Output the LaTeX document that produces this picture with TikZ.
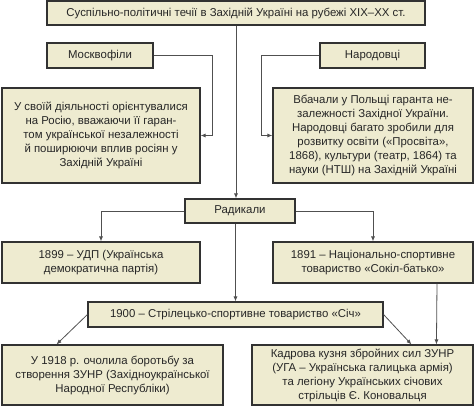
\documentclass[tikz,border=0pt]{standalone}
\usepackage{fontspec}
\setmainfont{Liberation Sans}
\usetikzlibrary{arrows.meta,calc}
\definecolor{boxfill}{RGB}{238,235,208}
\definecolor{boxline}{RGB}{50,50,50}
\definecolor{linkline}{RGB}{80,80,80}
\begin{document}
\begin{tikzpicture}[x=1pt, y=-1pt, >={Latex[length=5pt,width=4pt]},
  font=\fontsize{11.4}{14}\selectfont,
  box/.style={draw=boxline, fill=boxfill, line width=1.1pt, align=center, inner sep=1pt, text=black!85},
  link/.style={draw=linkline, line width=0.8pt}]
\useasboundingbox (0,0) rectangle (474,408);
% ---------------- top row
\node[box, minimum width=378pt, minimum height=24pt] (top) at (236,13) {Суспільно-політичні течії в Західній Україні на рубежі XIX–XX ст.};
\node[box, minimum width=106pt, minimum height=25pt] (mosk) at (100,55.5) {Москвофіли};
\node[box, minimum width=105pt, minimum height=25pt] (narod) at (372.5,55.5) {Народовці};
\node[box, minimum width=198pt, minimum height=95pt] (moskinfo) at (101,135.5) {У своїй діяльності орієнтувалися\\ на Росію, вважаючи її гаран-\\ том української незалежності\\ й поширюючи вплив росіян у\\ Західній Україні};
\node[box, minimum width=200pt, minimum height=95pt] (narodinfo) at (373,135.5) {Вбачали у Польщі гаранта не-\\ залежності Західної України.\\ Народовці багато зробили для\\ розвитку освіти («Просвіта»,\\ 1868), культури (театр, 1864) та\\ науки (НТШ) на Західній Україні};
\draw[link, ->] (mosk.east) -- ++(59,0) |- (moskinfo.east);
\draw[link, ->] (narod.west) -- ++(-58,0) |- (narodinfo.west);
% ---------------- radicals
\node[box, minimum width=110pt, minimum height=24pt] (rad) at (240,211) {Радикали};
\node[box, minimum width=198pt, minimum height=41pt] (udp) at (101,262.5) {1899 – УДП (Українська\\ демократична партія)};
\node[box, minimum width=200pt, minimum height=41pt] (sokil) at (373,262.5) {1891 – Національно-спортивне\\ товариство «Сокіл-батько»};
\draw[link, ->] (top.south) -- (top.south |- rad.north);
\draw[link, ->] (rad.west) -| (udp.north);
\draw[link, ->] (rad.east) -| (sokil.north);
% ---------------- sich
\node[box, minimum width=295pt, minimum height=25pt] (sich) at (235.5,314.5) {1900 – Стрілецько-спортивне товариство «Січ»};
\node[box, minimum width=221pt, minimum height=60pt] (zunr) at (112.5,375) {У 1918 р. очолила боротьбу за\\ створення ЗУНР (Західноукраїнської\\ Народної Республіки)};
\node[box, minimum width=221pt, minimum height=60pt] (uga) at (362.5,375) {Кадрова кузня збройних сил ЗУНР\\ (УГА – Українська галицька армія)\\ та легіону Українських січових\\ стрільців Є. Коновальця};
\draw[link, ->] (sich.north |- rad.south) -- (sich.north);
\draw[link, ->] (sich.west) -- ($(zunr.north west)+(55,0)$);
\draw[link, ->] (sich.east) -- ($(uga.north west)+(160,0)$);
\draw[link, ->] ($(sokil.south)+(64,0)$) -- ($(uga.north west)+(185,0)$);
\end{tikzpicture}
\end{document}
